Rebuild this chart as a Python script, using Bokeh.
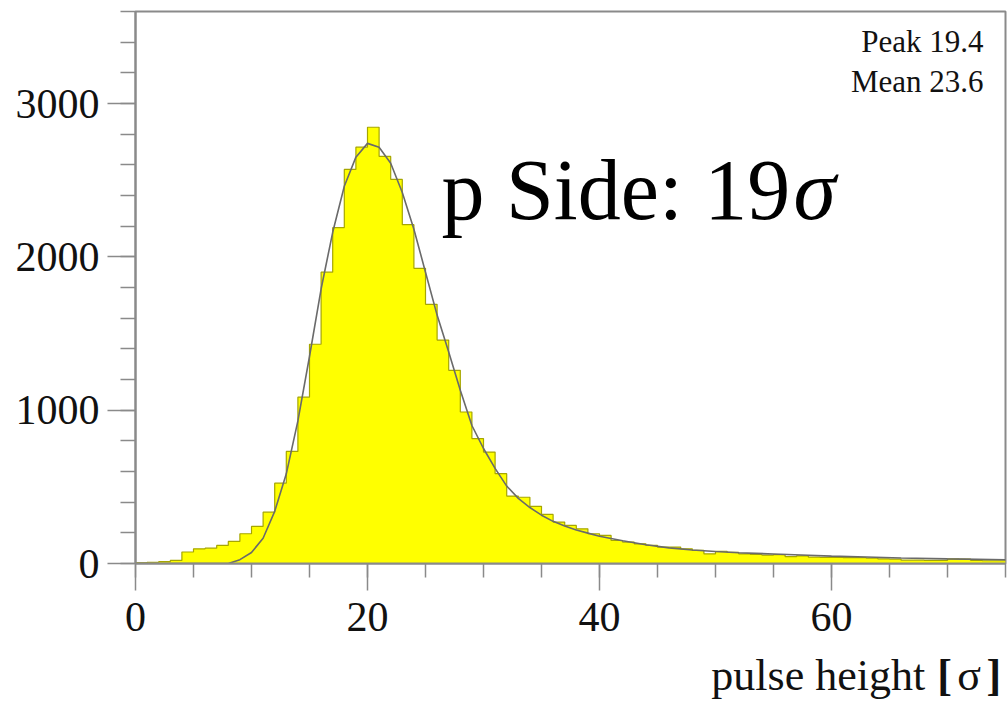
from bokeh.plotting import figure
from bokeh.models import Range1d, SingleIntervalTicker, Label
from bokeh.layouts import column
from bokeh.embed import file_html
from bokeh.resources import INLINE

# ---- data ----
bin_left = list(range(0, 75))          # bin width 1 sigma
counts = [5, 8, 12, 20,
          75, 96, 100, 118, 144, 194, 242, 335, 524, 731,
          1085, 1430, 1900, 2190, 2570, 2715, 2845, 2655, 2505, 2210,
          1925, 1690, 1457, 1260, 988, 815, 727, 586, 440, 432,
          373, 320, 270, 248, 226, 194, 183, 150, 139, 128,
          118, 107, 107, 96, 85, 63, 80, 72, 63, 59,
          55, 58, 45, 50, 42, 40, 40, 38, 38, 35,
          30, 28, 22, 22, 20, 20, 30, 28, 20, 18, 18]
bin_width = 1

fit_x = [0, 8, 9, 10, 11, 12, 13, 14, 15, 16, 17, 18, 19, 20, 21, 22, 23, 24, 25,
         26, 27, 28, 29, 30, 31, 32, 33, 34, 35, 36, 37, 38, 39, 40, 42, 44, 46,
         48, 50, 52, 55, 58, 60, 63, 66, 70, 75]
fit_y = [0, 0, 25, 72, 165, 340, 585, 930, 1350, 1790, 2160, 2460, 2650, 2740, 2715,
         2610, 2420, 2180, 1900, 1620, 1380, 1130, 900, 750, 620, 505, 425, 365, 315,
         275, 245, 218, 198, 178, 148, 122, 102, 88, 78, 70, 62, 54, 48, 42, 36, 30, 24]

x_ticks_major = 20
y_ticks_major = 1000
stats = ["Peak 19.4", "Mean 23.6"]
title_text = "p Side: 19"
x_label = "pulse height"

FONT = "Liberation Serif"
AXIS_COL = "#8a8a8a"
TOP_H = 640
BASE_FIX = 0.35   # Bokeh draws the alphabetic baseline this fraction of the size lower

p = figure(width=1007, height=TOP_H, x_range=Range1d(0, 75), y_range=Range1d(0, 3600),
           output_backend="svg", toolbar_location=None,
           min_border_left=135, min_border_right=2, min_border_top=11,
           min_border_bottom=TOP_H - 563)
p.background_fill_color = "white"
p.border_fill_color = "white"
p.xgrid.visible = False
p.ygrid.visible = False
p.outline_line_color = AXIS_COL
p.outline_line_width = 2

# histogram fill + outline
step_x = [b for b in bin_left] + [bin_left[-1] + bin_width]
step_y = counts + [counts[-1]]
p.varea_step(x=step_x, y1=[0] * len(step_x), y2=step_y, step_mode="after",
             fill_color="#ffff00")
p.step(x=step_x, y=step_y, mode="after", line_color="#a6a600", line_width=1.2)

# fit curve
p.line(fit_x, fit_y, line_color="#6a6a6a", line_width=1.6)

# axes
for ax in (p.xaxis[0], p.yaxis[0]):
    ax.axis_line_color = AXIS_COL
    ax.axis_line_width = 2
    ax.major_tick_line_color = AXIS_COL
    ax.minor_tick_line_color = AXIS_COL
    ax.major_tick_line_width = 1.5
    ax.minor_tick_line_width = 1.5
    ax.major_tick_in = 0
    ax.minor_tick_in = 0
    ax.major_label_text_font = FONT
    ax.major_label_text_font_size = "42px"
    ax.major_label_text_color = "#111111"

p.xaxis.ticker = SingleIntervalTicker(interval=x_ticks_major, num_minor_ticks=4)
p.yaxis.ticker = SingleIntervalTicker(interval=y_ticks_major, num_minor_ticks=5)
p.xaxis.major_tick_out = 27
p.xaxis.minor_tick_out = 14
p.yaxis.major_tick_out = 28
p.yaxis.minor_tick_out = 15
p.xaxis.major_label_standoff = 12
p.yaxis.major_label_standoff = 8

# px -> data helpers for annotation placement
def dx(px):
    return (px - 135) / 870 * 75

def dy(py, fs):
    return (563 - (py - BASE_FIX * fs)) / 552 * 3600

# stats box text
for i, s in enumerate(stats):
    p.add_layout(Label(x=dx(983), y=dy(52 + 40 * i, 31), text=s, text_align="right",
                       text_baseline="alphabetic", text_font=FONT,
                       text_font_size="31px", text_color="#111111"))

# big label
p.add_layout(Label(x=dx(441), y=dy(220, 86), text=title_text, text_align="left",
                   text_baseline="alphabetic", text_font=FONT,
                   text_font_size="86px", text_color="black"))
p.add_layout(Label(x=dx(793), y=dy(220, 86), text="\u03c3", text_align="left",
                   text_baseline="alphabetic", text_font=FONT, text_font_style="italic",
                   text_font_size="86px", text_color="black"))

# ---- strip below the plot for the x-axis title ----
BOT_H = 704 - TOP_H
q = figure(width=1007, height=BOT_H, x_range=Range1d(0, 1007), y_range=Range1d(0, BOT_H),
           output_backend="svg", toolbar_location=None, min_border=0)
q.axis.visible = False
q.xgrid.visible = False
q.ygrid.visible = False
q.outline_line_color = None
q.background_fill_color = "white"
q.border_fill_color = "white"

def sy(py, fs):
    return 704 - (py - BASE_FIX * fs)

XL_FS = 44
q.add_layout(Label(x=914, y=sy(690, XL_FS), text=x_label, text_align="right",
                   text_baseline="alphabetic", text_font=FONT,
                   text_font_size=f"{XL_FS}px", text_color="#111111"))
q.add_layout(Label(x=928, y=sy(690, XL_FS), text="[", text_align="left",
                   text_baseline="alphabetic", text_font=FONT, text_font_style="bold",
                   text_font_size=f"{XL_FS}px", text_color="#111111"))
q.add_layout(Label(x=965, y=sy(690, XL_FS), text="\u03c3", text_align="center",
                   text_baseline="alphabetic", text_font=FONT,
                   text_font_size=f"{XL_FS}px", text_color="#111111"))
q.add_layout(Label(x=1002, y=sy(690, XL_FS), text="]", text_align="right",
                   text_baseline="alphabetic", text_font=FONT, text_font_style="bold",
                   text_font_size=f"{XL_FS}px", text_color="#111111"))

layout = column(p, q, spacing=0)
open("out.html", "w").write(file_html(layout, INLINE))
